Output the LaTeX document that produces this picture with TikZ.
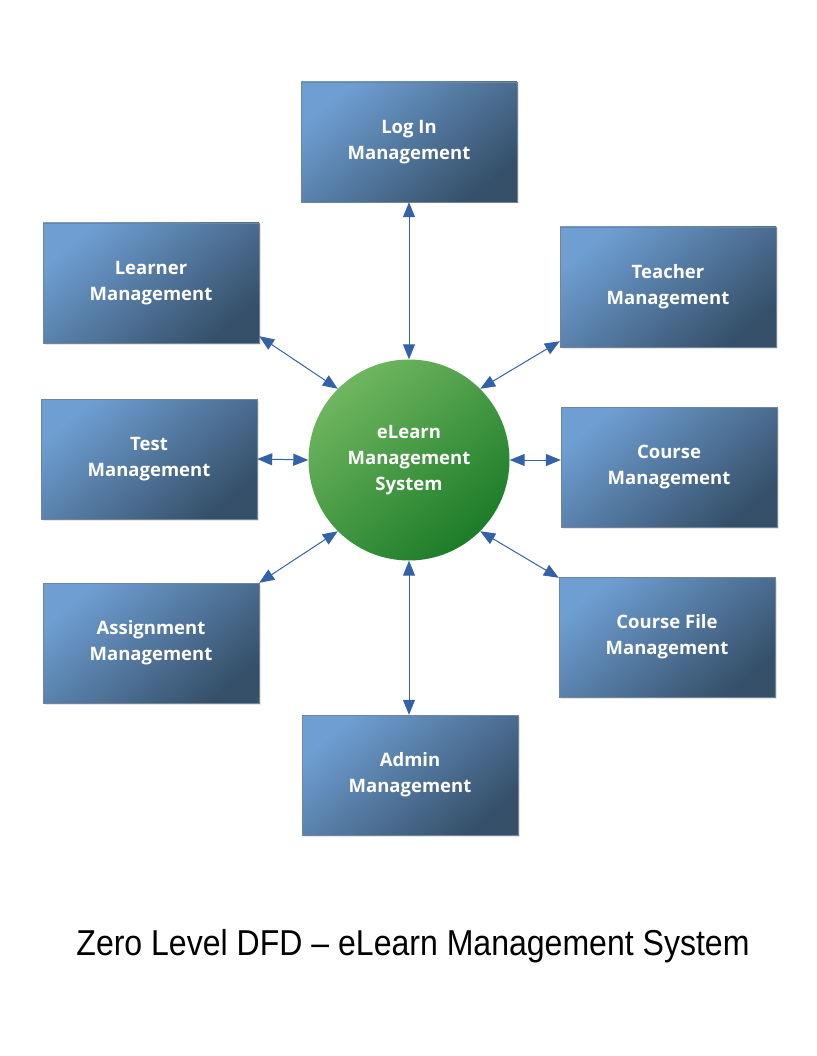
\documentclass[tikz,border=0pt]{standalone}
\usepackage{fontspec}
\setmainfont{Liberation Sans}
\newfontfamily\boxfont{Open Sans}
\usetikzlibrary{arrows.meta,calc,shadows}
\definecolor{boxlight}{RGB}{110,158,210}
\definecolor{boxdark}{RGB}{54,80,106}
\definecolor{circlight}{RGB}{112,182,96}
\definecolor{circdark}{RGB}{28,124,40}
\definecolor{arrowblue}{RGB}{52,98,168}
\tikzset{
  x=1pt,y=-1pt,
  mgmt/.style={rectangle, minimum width=216pt, minimum height=120pt, inner sep=0pt,
    shading=axis, top color=boxlight, bottom color=boxdark, shading angle=40,
    draw=boxdark!70, line width=0.4pt,
    text=white, font=\boxfont\bfseries\fontsize{18.5}{26}\selectfont, align=center,
    drop shadow={shadow xshift=1.5pt, shadow yshift=-1.5pt, opacity=0.2}},
  proc/.style={circle, minimum size=201pt, inner sep=0pt,
    shading=axis, top color=circlight, bottom color=circdark, shading angle=40,
    text=white, font=\boxfont\bfseries\fontsize{18.5}{26}\selectfont, align=center},
  flow/.style={arrowblue, line width=1pt, {Triangle[length=15pt,width=12pt]}-{Triangle[length=15pt,width=12pt]}}
}
\begin{document}
\begin{tikzpicture}
\useasboundingbox (0,0) rectangle (816,1056);
\node[proc] (c) at (409,460) {eLearn\\Management\\System};
\node[mgmt] (login) at (409,142) {Log In\\Management};
\node[mgmt] (learner) at (151,283) {Learner\\Management};
\node[mgmt] (teacher) at (668,287) {Teacher\\Management};
\node[mgmt] (test) at (149,459) {Test\\Management};
\node[mgmt] (course) at (669,467) {Course\\Management};
\node[mgmt] (assign) at (151,643) {Assignment\\Management};
\node[mgmt] (cfile) at (667,637) {Course File\\Management};
\node[mgmt] (admin) at (410,775) {Admin\\Management};
\node[font=\fontsize{36}{40}\selectfont] (title) at (413,946) {\scalebox{0.89}[1]{Zero Level DFD -- eLearn Management System}};
\draw[flow] (login.south) -- (c.north);
\draw[flow] ($(learner.south east)+(0,-7)$) -- (c.135);
\draw[flow] ($(teacher.south west)+(0,-6)$) -- (c.45);
\draw[flow] (test.east) -- (c.west);
\draw[flow] (course.west |- c.east) -- (c.east);
\draw[flow] (assign.north east) -- (c.225);
\draw[flow] ($(cfile.north west)+(0,1)$) -- (c.315);
\draw[flow] (c.south) -- (c.south |- admin.north);
\end{tikzpicture}
\end{document}
